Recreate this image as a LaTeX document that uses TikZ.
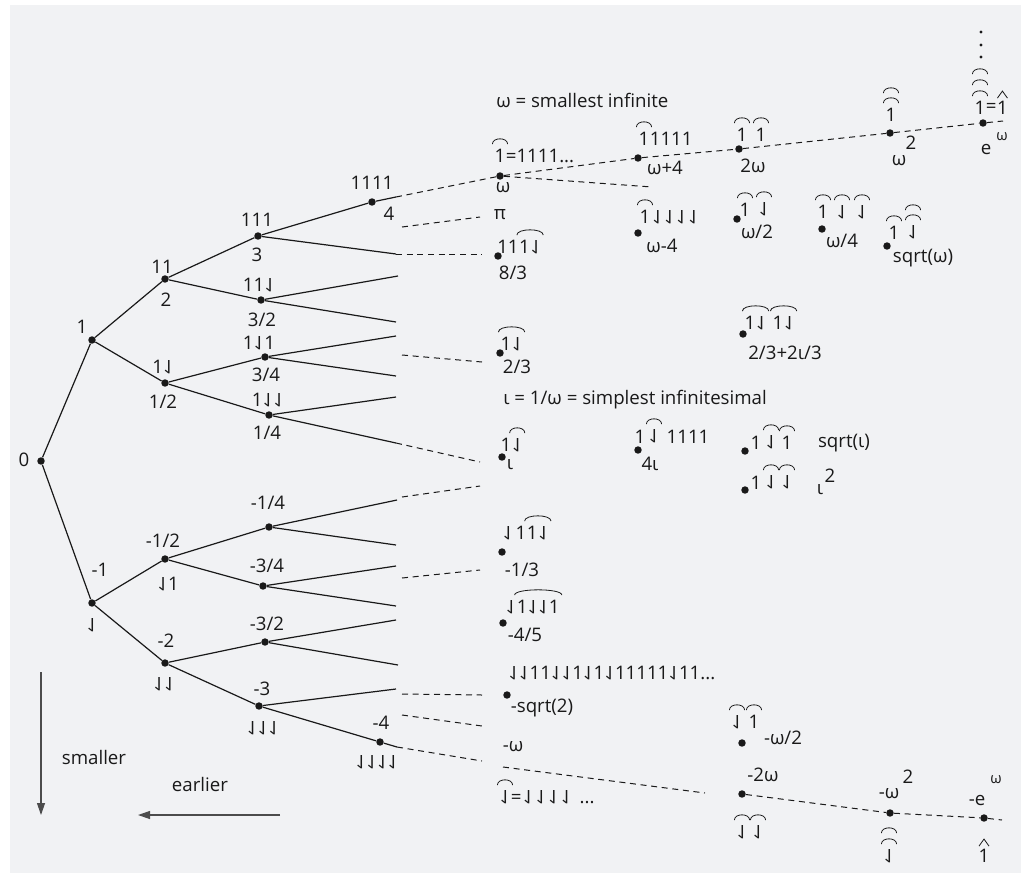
\documentclass[tikz,border=0pt]{standalone}
\usepackage{fontspec}
\setmainfont{Open Sans}
\usetikzlibrary{calc,arrows.meta}
\newcommand\rl{\rotatebox[origin=c]{180}{\reflectbox{1}}}
\newcommand\fsz{\fontsize{14}{17}\selectfont}
\newcommand\fss{\fontsize{11}{13}\selectfont}
\definecolor{panel}{HTML}{F1F2F4}
\tikzset{
 dot/.style={circle,fill=black!90,inner sep=0pt,minimum size=5.6pt},
 lbl/.style={inner sep=0pt,font=\fsz,text=black!90},
 sup/.style={inner sep=0pt,font=\fss,text=black!90},
 edge/.style={line width=0.9pt,black!90},
 dashline/.style={line width=0.75pt,black!90,dash pattern=on 4.5pt off 3.5pt},
 arcl/.style={line width=0.6pt,black!90},
 arr/.style={line width=0.9pt,black!70,-{Triangle[length=9pt,width=6pt]}}
}
\newcommand\ov[3][0]{%
 \path (#2.north west) ++(-2,-5-#1) coordinate (ovA);
 \path (#3.north east) ++(2,-5-#1) coordinate (ovB);
 \draw[arcl] (ovA) .. controls ($(ovA)+(0,-7)$) and ($(ovB)+(0,-7)$) .. (ovB);}
\newcommand\caret[1]{%
 \draw[arcl] ($(#1.north)+(-5,-3)$) -- ($(#1.north)+(0,-10)$) -- ($(#1.north)+(5,-3)$);}
\begin{document}
\begin{tikzpicture}[x=0.75pt,y=-0.75pt]
\useasboundingbox (0,0) rectangle (1021,875);
\fill[white] (0,0) rectangle (1021,875);
\fill[panel] (10,5) rectangle (1021,873);

% ---------- tree dots ----------
\node[dot] (n0) at (41,461) {};
\node[dot] (n1) at (92,340) {};
\node[dot] (nm1) at (92,603) {};
\node[dot] (n2) at (165,279) {};
\node[dot] (nh) at (165,383) {};
\node[dot] (n3) at (258,236) {};
\node[dot] (n32) at (261,300) {};
\node[dot] (n34) at (265,357) {};
\node[dot] (n14) at (269,415) {};
\node[dot] (n4) at (372,202) {};
\node[dot] (nmh) at (165,559) {};
\node[dot] (nm2) at (165,663) {};
\node[dot] (nm14) at (269,527) {};
\node[dot] (nm34) at (263,586) {};
\node[dot] (nm32) at (265,642) {};
\node[dot] (nm3) at (259,706) {};
\node[dot] (nm4) at (380,742) {};

% leaf ends
\coordinate (l4) at (396,197);
\coordinate (l3b) at (396,254);
\coordinate (l32a) at (398,276);
\coordinate (l32b) at (396,322);
\coordinate (l34a) at (396,336);
\coordinate (l34b) at (396,376);
\coordinate (l14a) at (396,397);
\coordinate (l14b) at (396,443);
\coordinate (lm14a) at (397,500);
\coordinate (lm14b) at (396,545);
\coordinate (lm34a) at (396,566);
\coordinate (lm34b) at (396,606);
\coordinate (lm32a) at (396,620);
\coordinate (lm32b) at (398,665);
\coordinate (lm3a) at (396,689);
\coordinate (lm4) at (397,747);

\foreach \a/\b in {n0/n1,n0/nm1,n1/n2,n1/nh,n2/n3,n2/n32,nh/n34,nh/n14,n3/n4,n4/l4,n3/l3b,
  n32/l32a,n32/l32b,n34/l34a,n34/l34b,n14/l14a,n14/l14b,nm1/nmh,nm1/nm2,nmh/nm14,nmh/nm34,
  nm2/nm32,nm2/nm3,nm14/lm14a,nm14/lm14b,nm34/lm34a,nm34/lm34b,nm32/lm32a,nm32/lm32b,
  nm3/lm3a,nm3/nm4,nm4/lm4}
  \draw[edge] (\a) -- (\b);

% ---------- tree labels ----------
\node[lbl] (t0) at (24,460) {0};
\node[lbl] (t1) at (82,327) {1};
\node[lbl] (tm1) at (100,570) {-1};
\node[lbl] (tm1s) at (92,625) {\rl};
\node[lbl] (t2s) at (162,267) {11};
\node[lbl] (t2) at (166,300) {2};
\node[lbl] (ths) at (163,367) {1\rl};
\node[lbl] (th) at (163,402) {1/2};
\node[lbl] (t3s) at (257,220) {111};
\node[lbl] (t3) at (257,255) {3};
\node[lbl] (t32s) at (259,285) {11\rl};
\node[lbl] (t32) at (262,320) {3/2};
\node[lbl] (t34s) at (259,343) {1\rl1};
\node[lbl] (t34) at (266,375) {3/4};
\node[lbl] (t14s) at (268,400) {1\rl\rl};
\node[lbl] (t14) at (267,433) {1/4};
\node[lbl] (t4s) at (372,183) {1111};
\node[lbl] (t4) at (389,214) {4};
\node[lbl] (tmh) at (163,541) {-1/2};
\node[lbl] (tmhs) at (168,584) {\rl1};
\node[lbl] (tm2) at (166,641) {-2};
\node[lbl] (tm2s) at (164,684) {\rl\rl};
\node[lbl] (tm14) at (268,503) {-1/4};
\node[lbl] (tm34) at (267,566) {-3/4};
\node[lbl] (tm32) at (267,624) {-3/2};
\node[lbl] (tm3) at (262,689) {-3};
\node[lbl] (tm3s) at (263,728) {\rl\rl\rl};
\node[lbl] (tm4) at (381,723) {-4};
\node[lbl] (tm4s) at (377,762) {\rl\rl\rl\rl};

% ---------- right side: positive infinite ----------
\node[lbl,anchor=west] (tw) at (496,100) {ω = smallest infinite};

\node[dot] (w) at (500,176) {};
\node[lbl] (wa) at (500,156) {1};
\node[lbl,anchor=west] (wb) at (wa.east) {=1111...};
\ov{wa}{wa}
\node[lbl] (wl) at (503,188) {ω};
\node[lbl] (pil) at (500,215) {π};

\node[dot] (e83) at (498,256) {};
\node[lbl,anchor=west] (e83a) at (497,247) {11};
\node[lbl,anchor=west] (e83b) at (e83a.east) {1};
\node[lbl,anchor=west] (e83c) at (e83b.east) {\rl};
\ov{e83b}{e83c}
\node[lbl] (e83l) at (513,273) {8/3};

\node[dot] (wp4) at (638,158) {};
\node[lbl] (wp4a) at (644,139) {1};
\node[lbl,anchor=west] (wp4b) at (wp4a.east) {1111};
\ov{wp4a}{wp4a}
\node[lbl] (wp4l) at (665,168) {ω+4};

\node[dot] (wm4) at (638,233) {};
\node[lbl] (wm4a) at (645,217) {1};
\node[lbl,anchor=west] (wm4b) at (wm4a.east) {\kern1pt\rl\kern1pt\rl\kern1pt\rl\kern1pt\rl};
\ov{wm4a}{wm4a}
\node[lbl] (wm4l) at (662,246) {ω-4};

\node[dot] (w2) at (739,149) {};
\node[lbl] (w2a) at (742,135) {1};
\node[lbl] (w2b) at (761,135) {1};
\ov{w2a}{w2a}
\ov{w2b}{w2b}
\node[lbl] (w2l) at (753,166) {2ω};

\node[dot] (wsq) at (890,133) {};
\node[lbl] (wsqa) at (891,115) {1};
\ov{wsqa}{wsqa}
\ov[10]{wsqa}{wsqa}
\node[lbl] (wsql) at (899,161) {ω};
\node[lbl] (wsqe) at (911,143) {2};

\node[dot] (we) at (983,123) {};
\node[lbl] (wea) at (980,108) {1};
\node[lbl,anchor=west] (web) at (wea.east) {=};
\node[lbl,anchor=west] (wec) at (web.east) {1};
\ov{wea}{wea}
\ov[11]{wea}{wea}
\ov[22]{wea}{wea}
\caret{wec}
\fill[black!90] (981,32) circle[radius=1.2pt] (981,45) circle[radius=1.2pt] (981,57) circle[radius=1.2pt];
\node[lbl] (wel) at (986,150) {e};
\node[sup] (wee) at (1002,137) {ω};

\coordinate (wdn) at (652,187);
\coordinate (wend) at (1003,121);
\draw[dashline] (l4) -- (w) -- (wp4) -- (w2) -- (wsq) -- (we) -- (wend);
\draw[dashline] (w) -- (wdn);

\node[dot] (wh) at (737,219) {};
\node[lbl] (wha) at (745,210) {1};
\node[lbl] (whb) at (764,209) {\rl};
\ov{wha}{wha}
\ov{whb}{whb}
\node[lbl] (whl) at (757,232) {ω/2};

\node[dot] (wq) at (822,229) {};
\node[lbl] (wqa) at (823,212) {1};
\node[lbl] (wqb) at (842,212) {\rl};
\node[lbl] (wqc) at (862,212) {\rl};
\ov{wqa}{wqa}
\ov{wqb}{wqb}
\ov{wqc}{wqc}
\node[lbl] (wql) at (842,241) {ω/4};

\node[dot] (wr) at (887,246) {};
\node[lbl] (wra) at (894,233) {1};
\node[lbl] (wrb) at (913,232) {\rl};
\ov{wra}{wra}
\ov{wrb}{wrb}
\ov[10]{wrb}{wrb}
\node[lbl] (wrl) at (923,258) {sqrt(ω)};

% ---------- rationals and infinitesimals ----------
\node[dot] (t23) at (500,353) {};
\node[lbl] (t23a) at (506,344) {1};
\node[lbl,anchor=west] (t23b) at (t23a.east) {\rl};
\ov{t23a}{t23b}
\node[lbl] (t23l) at (517,367) {2/3};

\node[dot] (t23i) at (743,334) {};
\node[lbl] (ta1) at (750,323) {1};
\node[lbl,anchor=west] (ta2) at (ta1.east) {\rl};
\node[lbl] (ta3) at (778,323) {1};
\node[lbl,anchor=west] (ta4) at (ta3.east) {\rl};
\ov{ta1}{ta2}
\ov{ta3}{ta4}
\node[lbl] (t23il) at (785,353) {2/3+2ι/3};

\node[lbl,anchor=west] (ti) at (503,400) {ι = 1/ω = simplest infinitesimal};

\node[dot] (io) at (502,457) {};
\node[lbl] (ioa) at (506,445) {1};
\node[lbl,anchor=west] (iob) at (ioa.east) {\rl};
\ov{iob}{iob}
\node[lbl] (iol) at (510,465) {ι};

\node[dot] (i4) at (638,450) {};
\node[lbl] (i4a) at (640,437) {1};
\node[lbl] (i4b) at (654,436) {\rl};
\ov{i4b}{i4b}
\node[lbl] (i4c) at (688,437) {1111};
\node[lbl] (i4l) at (650,464) {4ι};

\node[dot] (ir) at (745,451) {};
\node[lbl] (ira) at (756,443) {1};
\node[lbl] (irb) at (771,442) {\rl};
\node[lbl] (irc) at (787,443) {1};
\ov{irb}{irb}
\ov{irc}{irc}
\node[lbl] (irl) at (844,443) {sqrt(ι)};

\node[dot] (isq) at (745,490) {};
\node[lbl] (isqa) at (756,483) {1};
\node[lbl] (isqb) at (771,482) {\rl};
\node[lbl] (isqc) at (787,482) {\rl};
\ov{isqb}{isqb}
\ov{isqc}{isqc}
\node[lbl] (isql) at (820,490) {ι};
\node[lbl] (isqe) at (830,476) {2};

% ---------- negatives ----------
\node[dot] (m13) at (502,552) {};
\node[lbl] (m13a) at (508,533) {\rl};
\node[lbl] (m13b) at (521,533) {1};
\node[lbl,anchor=west] (m13c) at (m13b.east) {1};
\node[lbl,anchor=west] (m13d) at (m13c.east) {\rl};
\ov{m13c}{m13d}
\node[lbl] (m13l) at (522,570) {-1/3};

\node[dot] (m45) at (503,623) {};
\node[lbl] (m45a) at (511,607) {\rl};
\node[lbl,anchor=west] (m45b) at (m45a.east) {1\rl\rl1};
\ov{m45b}{m45b}
\node[lbl] (m45l) at (525,635) {-4/5};

\node[lbl,anchor=west] (ms2s) at (508,673) {\rl\rl11\rl\rl1\rl1\rl11111\rl11...};
\node[dot] (ms2) at (507,695) {};
\node[lbl] (ms2l) at (542,708) {-sqrt(2)};

\node[lbl] (mwl) at (513,747) {-ω};
\node[lbl] (mwa) at (505,797) {\rl};
\node[lbl,anchor=west] (mwb) at (mwa.east) {=\kern1pt\rl\kern1.5pt\rl\kern1.5pt\rl\kern1.5pt\rl\kern6pt...};
\ov{mwa}{mwa}

\node[dot] (mwh) at (742,743) {};
\node[lbl] (mwha) at (737,722) {\rl};
\node[lbl] (mwhb) at (754,722) {1};
\ov{mwha}{mwha}
\ov{mwhb}{mwhb}
\node[lbl] (mwhl) at (783,738) {-ω/2};

\node[dot] (mw2) at (742,794) {};
\node[lbl] (mw2l) at (763,775) {-2ω};
\node[lbl] (mw2a) at (742,832) {\rl};
\node[lbl] (mw2b) at (758,832) {\rl};
\ov{mw2a}{mw2a}
\ov{mw2b}{mw2b}

\node[dot] (mwsq) at (890,813) {};
\node[lbl] (mwsql) at (889,794) {-ω};
\node[lbl] (mwsqe) at (908,777) {2};
\node[lbl] (mwsqa) at (889,856) {\rl};
\ov{mwsqa}{mwsqa}
\ov[11]{mwsqa}{mwsqa}

\node[dot] (mwe) at (984,818) {};
\node[lbl] (mwel) at (977,800) {-e};
\node[sup] (mwee) at (996,780) {ω};
\node[lbl] (mwea) at (984,856) {1};
\caret{mwea}

% ---------- dashed continuations ----------
\coordinate (d4a) at (402,227); \coordinate (d4b) at (480,217);
\coordinate (d3) at (482,254);
\coordinate (d34a) at (402,355); \coordinate (d34b) at (482,362);
\coordinate (d14) at (480,462);
\coordinate (dm14a) at (402,497); \coordinate (dm14b) at (480,486);
\coordinate (dm34a) at (402,578); \coordinate (dm34b) at (480,570);
\coordinate (dm3a) at (402,694); \coordinate (dm3b) at (482,695);
\coordinate (dm3c) at (402,715); \coordinate (dm3d) at (482,726);
\coordinate (dm4) at (482,761);
\coordinate (dmwa) at (503,767); \coordinate (dmwb) at (705,793);
\coordinate (mend) at (1002,820);
\draw[dashline] (d4a) -- (d4b);
\draw[dashline] (l3b) -- (d3);
\draw[dashline] (d34a) -- (d34b);
\draw[dashline] (l14b) -- (d14);
\draw[dashline] (dm14a) -- (dm14b);
\draw[dashline] (dm34a) -- (dm34b);
\draw[dashline] (dm3a) -- (dm3b);
\draw[dashline] (dm3c) -- (dm3d);
\draw[dashline] (lm4) -- (dm4);
\draw[dashline] (dmwa) -- (dmwb);
\draw[dashline] (mw2) -- (mwsq) -- (mwe) -- (mend);

% ---------- direction arrows ----------
\coordinate (sA) at (41,672); \coordinate (sB) at (41,815);
\draw[arr] (sA) -- (sB);
\node[lbl] (sl) at (94,757) {smaller};
\coordinate (eA) at (280,815); \coordinate (eB) at (138,815);
\draw[arr] (eA) -- (eB);
\node[lbl] (el) at (200,784) {earlier};
\end{tikzpicture}
\end{document}
